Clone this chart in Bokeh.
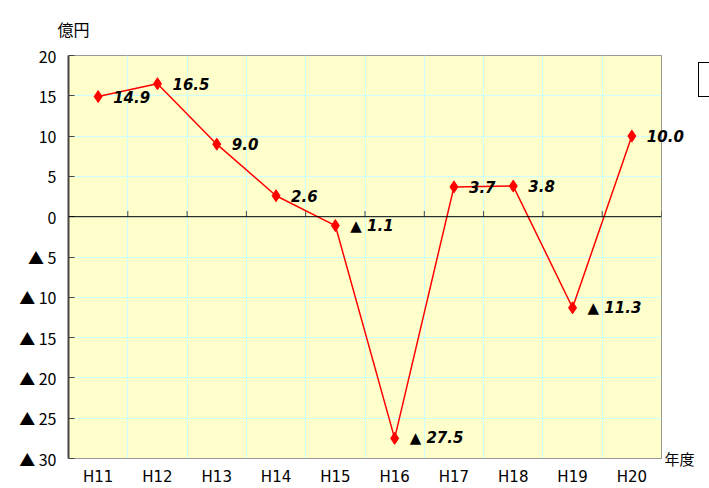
from bokeh.plotting import figure
from bokeh.models import (FactorRange, Range1d, FixedTicker, Span, LinearAxis,
                          ColumnDataSource, Div)
from bokeh.layouts import row
from bokeh.core.properties import value
from bokeh.embed import file_html
from bokeh.resources import INLINE

years = ["H11", "H12", "H13", "H14", "H15", "H16", "H17", "H18", "H19", "H20"]
values = [14.9, 16.5, 9.0, 2.6, -1.1, -27.5, 3.7, 3.8, -11.3, 10.0]
y_ticks = [-30, -25, -20, -15, -10, -5, 0, 5, 10, 15, 20]
y_unit = "億円"
x_unit = "年度"

labels = [("▲ " + f"{abs(v):.1f}") if v < 0 else f"{v:.1f}" for v in values]
tick_labels = {t: ("▲ " + str(abs(t))) if t < 0 else str(t) for t in y_ticks}

src = ColumnDataSource(dict(x=years, y=values, label=labels))

p = figure(width=698, height=488, x_range=FactorRange(*years), y_range=Range1d(-30, 20),
           output_backend="svg", toolbar_location=None,
           min_border_left=68, min_border_right=37, min_border_top=55, min_border_bottom=30)

p.background_fill_color = "#ffffcc"
p.border_fill_color = "white"
p.outline_line_color = "#999999"
p.outline_line_width = 1

# grids
p.xgrid.ticker = FixedTicker(ticks=list(range(1, len(years))))
p.xgrid.grid_line_color = "#ccffff"
p.ygrid.ticker = FixedTicker(ticks=y_ticks)
p.ygrid.grid_line_color = "#ccffff"

# y axis
p.yaxis.ticker = FixedTicker(ticks=y_ticks)
p.yaxis.major_label_overrides = tick_labels
p.yaxis.major_tick_in = 6
p.yaxis.major_tick_out = 0
p.yaxis.minor_tick_line_color = None
p.yaxis.axis_line_color = "#444444"
p.yaxis.axis_line_width = 2
p.yaxis.major_tick_line_color = "#444444"
p.yaxis.major_label_text_font = "Noto Sans CJK JP"
p.yaxis.major_label_text_font_size = "16px"
p.yaxis.major_label_text_color = "black"
p.yaxis.major_label_standoff = 12

# x axis
p.xaxis.major_tick_out = 0
p.xaxis.major_tick_in = 0
p.xaxis.axis_line_color = "#999999"
p.xaxis.major_label_text_font = "DejaVu Sans"
p.xaxis.major_label_text_font_size = "15px"
p.xaxis.major_label_text_color = "black"
p.xaxis.major_label_standoff = 9

# unit label of the x axis, at the lower right, outside the plot area
x_unit_axis = LinearAxis(ticker=FixedTicker(ticks=[-30]), major_label_overrides={-30: x_unit},
                         axis_line_color=None, major_tick_line_color=None,
                         minor_tick_line_color=None, major_tick_in=0, major_tick_out=0,
                         minor_tick_in=0, minor_tick_out=0, major_label_standoff=3,
                         major_label_text_font="Noto Sans CJK JP",
                         major_label_text_font_size="15px", major_label_text_color="black",
                         major_label_text_baseline="top")
p.add_layout(x_unit_axis, "right")

# zero line
p.add_layout(Span(location=0, dimension="width", line_color="black", line_width=1))
p.segment(x0=[(c, 0.5) for c in years], y0=[0] * len(years),
          x1=[(c, 0.5) for c in years], y1=[0.7] * len(years),
          line_color="#444444", line_width=1)

p.line("x", "y", source=src, line_color="red", line_width=1.5)
p.scatter("x", "y", source=src, marker="diamond", size=12, fill_color="red", line_color="red")
p.text("x", "y", text="label", source=src, x_offset=15, text_baseline="middle",
       text_font=value("DejaVu Sans"), text_font_style="bold italic",
       text_font_size="15px", text_color="black", level="overlay")

# unit label of the y axis
p.title.text = y_unit
p.title.text_font = "Noto Sans CJK JP"
p.title.text_font_size = "16px"
p.title.text_font_style = "normal"
p.title.text_color = "black"
p.title.offset = -11
p.title.standoff = 29

box = Div(text="", width=11, height=35, margin=(62, 0, 0, 0),
          styles={"border-top": "1px solid black", "border-left": "1px solid black",
                  "border-bottom": "1px solid black", "box-sizing": "border-box",
                  "background": "white"})

layout = row(p, box)
open("out.html", "w").write(file_html(layout, INLINE))
